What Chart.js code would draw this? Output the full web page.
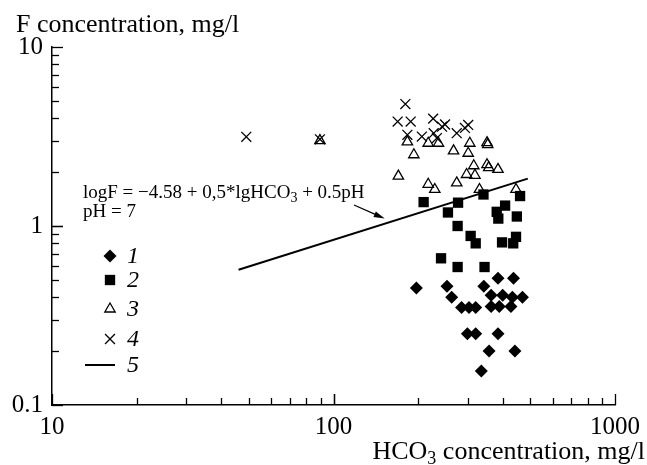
<!DOCTYPE html>
<html>
<head>
<meta charset="utf-8">
<script src="https://cdn.jsdelivr.net/npm/chart.js@4/dist/chart.umd.min.js"></script>
<style>
  html, body { margin: 0; padding: 0; background: #fff; }
  #wrap { width: 647px; height: 465px; }
</style>
</head>
<body>
<div id="wrap"><canvas id="c" width="647" height="465"></canvas></div>
<script>
// Fluoride vs bicarbonate concentration (log-log)
const xTicks = [10, 100, 1000];
const yTicks = [0.1, 1, 10];
const legendLabels = ['1', '2', '3', '4', '5'];

// [HCO3 mg/l, F mg/l]
const series1 = [
  [197, 0.45], [253, 0.46], [263, 0.40], [285, 0.35], [303, 0.35], [320, 0.35],
  [342, 0.46], [363, 0.41], [299, 0.25], [320, 0.25], [357, 0.20], [335, 0.155],
  [384, 0.51], [436, 0.51], [399, 0.41], [432, 0.40], [469, 0.40], [363, 0.355],
  [388, 0.355], [427, 0.355], [384, 0.25], [441, 0.20]
];
const series2 = [
  [209, 1.36], [277, 1.35], [341, 1.50], [255, 1.19], [276, 1.0], [307, 0.88],
  [320, 0.80], [241, 0.66], [276, 0.59], [344, 0.59], [407, 1.30], [380, 1.20],
  [385, 1.10], [448, 1.13], [460, 1.47], [397, 0.81], [435, 0.80], [445, 0.87]
];
const series3 = [
  [89.5, 3.0], [183, 2.95], [193, 2.5], [217, 2.9], [236, 2.9], [267, 2.63],
  [305, 2.9], [301, 2.55], [351, 2.92], [353, 2.85], [170, 1.9], [217, 1.71],
  [229, 1.6], [274, 1.74], [315, 2.17], [297, 1.94], [318, 1.92], [351, 2.2],
  [356, 2.12], [330, 1.6], [384, 2.07], [445, 1.6]
];
const series4 = [
  [49, 3.15], [89.5, 3.05], [180, 4.8], [169, 3.83], [188, 3.83], [226, 3.98],
  [249, 3.69], [243, 3.59], [183, 3.23], [206, 3.16], [227, 3.3], [233, 3.1],
  [274, 3.3], [301, 3.67], [293, 3.53]
];
// logF = -4.58 + 0.5*lgHCO3 + 0.5pH at pH = 7
const series5 = [[46, 0.57], [490, 1.84]];

const SERIF = '"Liberation Serif", "Times New Roman", serif';
const toXY = arr => arr.map(([x, y]) => ({ x, y }));

// inward tick marks on both axes
const tickMarks = {
  id: 'tickMarks',
  afterDraw(chart) {
    const { ctx, chartArea, scales } = chart;
    ctx.save();
    ctx.strokeStyle = '#000';
    ctx.lineWidth = 1.3;
    const yVals = [];
    for (let d = 0.1; d < 10; d *= 10) for (let k = 1; k <= 10; k++) yVals.push(+(d * k).toPrecision(3));
    const xVals = [];
    for (let d = 10; d < 1000; d *= 10) for (let k = 1; k <= 10; k++) xVals.push(d * k);
    yVals.forEach(v => {
      const major = yTicks.includes(v);
      const y = Math.round(scales.y.getPixelForValue(v)) + 0.5;
      ctx.beginPath();
      ctx.moveTo(chartArea.left, y);
      ctx.lineTo(chartArea.left + (major ? 11 : 7), y);
      ctx.stroke();
    });
    xVals.forEach(v => {
      const major = xTicks.includes(v);
      const x = Math.round(scales.x.getPixelForValue(v)) + 0.5;
      ctx.beginPath();
      ctx.moveTo(x, chartArea.bottom);
      ctx.lineTo(x, chartArea.bottom - (major ? 11 : 7));
      ctx.stroke();
    });
    ctx.restore();
  }
};

// axis titles, equation note and the numbered key
const notes = {
  id: 'notes',
  afterDraw(chart) {
    const { ctx, scales } = chart;
    ctx.save();
    ctx.fillStyle = '#000';
    ctx.textBaseline = 'alphabetic';

    // y axis title
    ctx.font = '26px ' + SERIF;
    ctx.textAlign = 'left';
    ctx.fillText('F concentration, mg/l', 16, 32);

    // x axis title, right aligned, with subscript
    const big = '26px ' + SERIF, small = '18px ' + SERIF;
    const partA = 'HCO', sub = '3', partB = ' concentration, mg/l';
    ctx.font = big; const wA = ctx.measureText(partA).width, wB = ctx.measureText(partB).width;
    ctx.font = small; const wS = ctx.measureText(sub).width;
    let x0 = 645 - (wA + wS + wB);
    const base = 459;
    ctx.font = big; ctx.fillText(partA, x0, base); x0 += wA;
    ctx.font = small; ctx.fillText(sub, x0, base + 5); x0 += wS;
    ctx.font = big; ctx.fillText(partB, x0, base);

    // equation
    const eqFont = '19px ' + SERIF, eqSub = '14px ' + SERIF;
    let ex = 83;
    const eb = 198;
    ctx.font = eqFont; ctx.fillText('logF = \u22124.58 + 0,5*lgHCO', ex, eb);
    ex += ctx.measureText('logF = \u22124.58 + 0,5*lgHCO').width;
    ctx.font = eqSub; ctx.fillText('3', ex, eb + 4);
    ex += ctx.measureText('3').width;
    ctx.font = eqFont; ctx.fillText(' + 0.5pH', ex, eb);
    ctx.fillText('pH = 7', 83, eb + 19);

    // arrow to the line
    const tipX = scales.x.getPixelForValue(152), tipY = scales.y.getPixelForValue(1.1);
    const tailX = 354, tailY = 205;
    const ang = Math.atan2(tipY - tailY, tipX - tailX);
    ctx.strokeStyle = '#000'; ctx.lineWidth = 1.3;
    ctx.beginPath(); ctx.moveTo(tailX, tailY); ctx.lineTo(tipX - 6 * Math.cos(ang), tipY - 6 * Math.sin(ang)); ctx.stroke();
    ctx.beginPath();
    ctx.moveTo(tipX, tipY);
    ctx.lineTo(tipX - 11 * Math.cos(ang) + 3 * Math.sin(ang), tipY - 11 * Math.sin(ang) - 3 * Math.cos(ang));
    ctx.lineTo(tipX - 11 * Math.cos(ang) - 3 * Math.sin(ang), tipY - 11 * Math.sin(ang) + 3 * Math.cos(ang));
    ctx.closePath(); ctx.fill();

    // key
    const rows = [256, 280, 309, 339, 365];
    chart.data.datasets.forEach((ds, i) => {
      const y = rows[i];
      if (ds.showLine) {
        ctx.strokeStyle = '#000'; ctx.lineWidth = 2;
        ctx.beginPath(); ctx.moveTo(85, y); ctx.lineTo(115, y); ctx.stroke();
      } else {
        ctx.fillStyle = ds.backgroundColor; ctx.strokeStyle = ds.borderColor;
        ctx.lineWidth = ds.borderWidth;
        Chart.helpers.drawPoint(ctx, { pointStyle: ds.pointStyle, radius: ds.pointRadius, borderWidth: ds.borderWidth, rotation: 0 }, 110, y);
      }
      ctx.fillStyle = '#000';
      ctx.font = 'italic 24px ' + SERIF;
      ctx.textBaseline = 'middle';
      ctx.fillText(legendLabels[i], 127, y + 1);
      ctx.textBaseline = 'alphabetic';
    });
    ctx.restore();
  }
};

new Chart(document.getElementById('c'), {
  type: 'scatter',
  data: {
    datasets: [
      { label: legendLabels[0], data: toXY(series1), pointStyle: 'rectRot', pointRadius: 6.5,
        backgroundColor: '#000', borderColor: '#000', borderWidth: 0 },
      { label: legendLabels[1], data: toXY(series2), pointStyle: 'rect', pointRadius: 7.3,
        backgroundColor: '#000', borderColor: '#000', borderWidth: 0 },
      { label: legendLabels[2], data: toXY(series3), pointStyle: 'triangle', pointRadius: 6,
        backgroundColor: 'rgba(0,0,0,0)', borderColor: '#000', borderWidth: 1.3 },
      { label: legendLabels[3], data: toXY(series4), pointStyle: 'crossRot', pointRadius: 7,
        backgroundColor: 'rgba(0,0,0,0)', borderColor: '#000', borderWidth: 1.3 },
      { label: legendLabels[4], data: toXY(series5), showLine: true, pointRadius: 0,
        borderColor: '#000', borderWidth: 2, backgroundColor: '#000' }
    ]
  },
  options: {
    responsive: false,
    animation: false,
    devicePixelRatio: 1,
    events: [],
    layout: { padding: { top: 47, right: 24, left: 0, bottom: 0 } },
    plugins: { legend: { display: false }, tooltip: { enabled: false } },
    scales: {
      x: {
        type: 'logarithmic', min: 10, max: 1000, position: 'bottom',
        grid: { display: false, drawTicks: false },
        border: { display: true, color: '#000', width: 1.5 },
        ticks: { color: '#000', font: { family: SERIF, size: 25 }, padding: 7,
                 maxRotation: 0, autoSkip: false, callback: v => String(v) },
        afterBuildTicks: s => { s.ticks = xTicks.map(v => ({ value: v })); },
        afterFit: s => { s.height = 60; }
      },
      y: {
        type: 'logarithmic', min: 0.1, max: 10, position: 'left',
        grid: { display: false, drawTicks: false },
        border: { display: true, color: '#000', width: 1.5 },
        ticks: { color: '#000', font: { family: SERIF, size: 25 }, padding: 9,
                 autoSkip: false, callback: v => String(v) },
        afterBuildTicks: s => { s.ticks = yTicks.map(v => ({ value: v })); },
        afterFit: s => { s.width = 52; }
      }
    }
  },
  plugins: [tickMarks, notes]
});
</script>
</body>
</html>
